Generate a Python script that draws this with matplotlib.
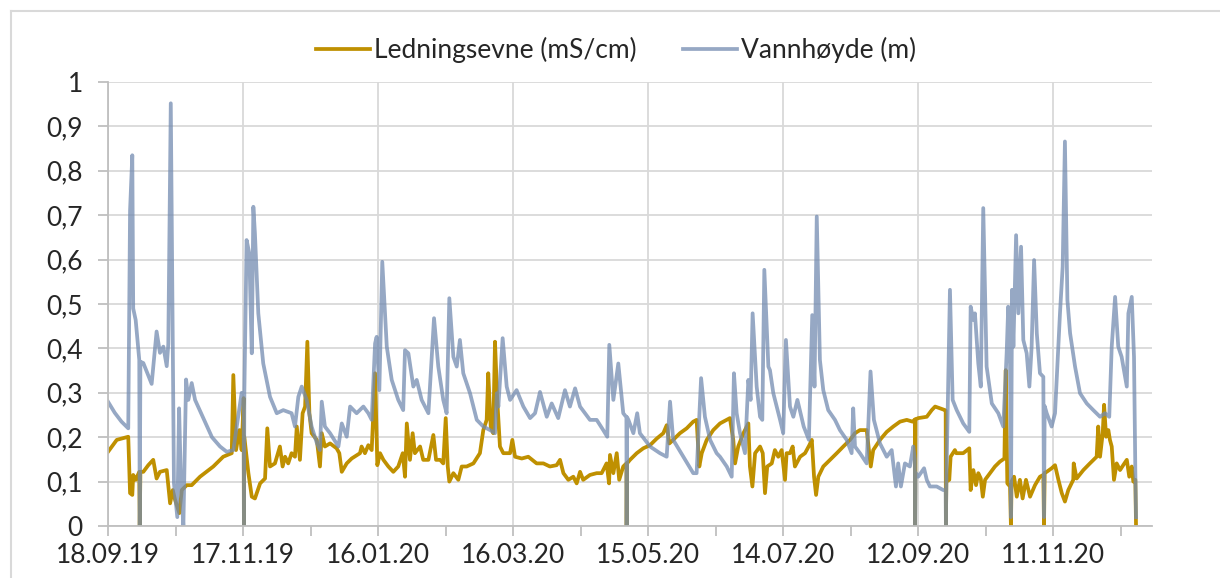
import datetime as dt
import matplotlib
matplotlib.use('Agg')
import matplotlib.pyplot as plt
from matplotlib.ticker import MultipleLocator, FuncFormatter
from matplotlib.lines import Line2D

plt.rcParams['font.family'] = ['Lato', 'DejaVu Sans']

start = dt.date(2019, 9, 18)

# dager etter 18.09.19
vann_dag = [0.0, 3.0, 6.0, 9.0, 9.8, 10.8, 11.2, 12.3, 13.9, 14.1, 14.4, 15.7, 19.4, 21.6, 23.1, 24.6,
            26.1, 26.8, 27.9, 29.3, 30.8, 31.6, 32.4, 33.5, 34.7, 35.7, 37.2, 38.7, 43.1, 46.2, 49.8,
            52.8, 55.7, 59.4, 60.3, 60.4, 60.6, 61.6, 62.8, 63.9, 64.6, 65.3, 66.8, 69.0, 72.0, 75.0,
            77.9, 81.6, 83.1, 84.6, 86.1, 88.3, 90.5, 92.8, 94.2, 95.0, 96.4, 98.7, 102.4, 103.9,
            106.1, 107.6, 110.5, 113.5, 115.7, 117.2, 118.7, 119.4, 120.6, 121.9, 123.9, 126.1,
            129.0, 131.2, 132.0, 133.5, 135.7, 137.2, 139.4, 142.4, 144.9, 146.8, 149.0, 150.5,
            151.7, 153.5, 155.0, 156.4, 157.9, 160.9, 163.9, 166.8, 169.8, 172.0, 172.8, 173.5,
            175.4, 177.2, 178.7, 181.6, 184.6, 187.6, 189.8, 192.0, 195.0, 197.2, 200.1, 203.1,
            205.3, 207.6, 209.8, 212.0, 214.2, 217.2, 220.1, 221.9, 222.8, 224.6, 226.8, 229.0,
            230.4, 230.5, 230.7, 231.3, 233.5, 235.2, 236.4, 240.9, 245.3, 248.3, 249.8, 251.2,
            255.7, 260.1, 261.6, 263.6, 265.3, 267.6, 270.5, 272.0, 275.0, 277.2, 278.2, 279.4,
            280.9, 283.1, 284.6, 285.6, 286.5, 288.3, 289.8, 290.8, 291.7, 293.5, 294.2, 295.7,
            298.7, 300.1, 301.3, 303.1, 304.6, 306.4, 309.2, 311.5, 313.0, 314.0, 315.0, 316.4,
            317.9, 320.1, 323.1, 325.3, 328.3, 330.5, 331.2, 332.0, 334.2, 337.2, 338.9, 340.4,
            343.1, 346.1, 348.3, 350.2, 351.2, 352.4, 354.2, 356.4, 357.9, 358.6, 358.7, 358.9,
            360.1, 362.7, 363.9, 365.3, 368.3, 371.2, 372.3, 372.4, 372.6, 374.2, 375.4, 377.2,
            380.1, 382.8, 383.4, 384.6, 385.3, 386.8, 387.9, 389.0, 390.5, 392.8, 395.7, 397.9,
            399.4, 400.1, 400.9, 401.3, 401.8, 402.4, 403.6, 404.6, 405.8, 406.8, 408.3, 409.5,
            410.5, 411.6, 412.8, 414.2, 415.7, 416.0, 416.3, 417.2, 419.4, 420.9, 423.1, 424.3,
            425.3, 426.4, 427.6, 429.8, 432.0, 435.0, 437.9, 440.9, 443.1, 445.0, 446.1, 447.6,
            449.0, 450.5, 452.8, 453.5, 455.0, 456.0, 456.6, 456.9]
vann_m = [0.28, 0.255, 0.235, 0.22, 0.71, 0.835, 0.49, 0.464, 0.374, 0.0, 0.37, 0.367, 0.32, 0.438,
          0.39, 0.404, 0.36, 0.41, 0.952, 0.097, 0.02, 0.265, 0.1, 0.0, 0.33, 0.284, 0.322, 0.284,
          0.235, 0.2, 0.179, 0.167, 0.171, 0.30, 0.284, 0.0, 0.3, 0.644, 0.614, 0.389, 0.719, 0.659,
          0.479, 0.366, 0.291, 0.254, 0.261, 0.254, 0.224, 0.291, 0.314, 0.284, 0.224, 0.187, 0.171,
          0.28, 0.224, 0.209, 0.179, 0.231, 0.201, 0.269, 0.254, 0.269, 0.254, 0.239, 0.411, 0.426,
          0.306, 0.595, 0.404, 0.329, 0.284, 0.261, 0.396, 0.389, 0.314, 0.329, 0.284, 0.254, 0.468,
          0.359, 0.284, 0.254, 0.513, 0.381, 0.359, 0.419, 0.344, 0.299, 0.239, 0.224, 0.216, 0.209,
          0.299, 0.269, 0.423, 0.314, 0.284, 0.306, 0.269, 0.243, 0.254, 0.302, 0.246, 0.276, 0.243,
          0.306, 0.269, 0.31, 0.269, 0.254, 0.239, 0.239, 0.216, 0.201, 0.408, 0.284, 0.366, 0.254,
          0.245, 0.0, 0.245, 0.239, 0.209, 0.254, 0.209, 0.179, 0.164, 0.156, 0.28, 0.194, 0.156,
          0.119, 0.119, 0.333, 0.246, 0.194, 0.164, 0.156, 0.134, 0.111, 0.344, 0.254, 0.209, 0.164,
          0.329, 0.284, 0.479, 0.314, 0.246, 0.239, 0.577, 0.359, 0.351, 0.299, 0.239, 0.209, 0.419,
          0.269, 0.246, 0.284, 0.224, 0.194, 0.475, 0.314, 0.697, 0.374, 0.306, 0.261, 0.239, 0.216,
          0.194, 0.164, 0.265, 0.179, 0.164, 0.141, 0.348, 0.239, 0.186, 0.156, 0.171, 0.089, 0.141,
          0.089, 0.141, 0.134, 0.179, 0.15, 0.0, 0.12, 0.111, 0.13, 0.104, 0.089, 0.089, 0.081, 0.08,
          0.0, 0.1, 0.532, 0.284, 0.261, 0.231, 0.212, 0.494, 0.464, 0.479, 0.366, 0.314, 0.716,
          0.359, 0.276, 0.254, 0.224, 0.389, 0.494, 0.366, 0.02, 0.532, 0.404, 0.655, 0.479, 0.629,
          0.419, 0.389, 0.314, 0.404, 0.599, 0.434, 0.344, 0.336, 0.02, 0.27, 0.254, 0.224, 0.254,
          0.479, 0.584, 0.866, 0.509, 0.434, 0.359, 0.299, 0.276, 0.261, 0.246, 0.254, 0.246, 0.404,
          0.516, 0.404, 0.381, 0.314, 0.479, 0.516, 0.381, 0.12, 0.02]

led_dag = [0.0, 3.9, 9.0, 9.8, 10.8, 11.2, 12.3, 13.9, 14.1, 14.4, 15.7, 17.9, 20.1, 21.6, 23.1, 26.1,
           27.6, 28.8, 29.8, 30.8, 31.7, 32.8, 35.0, 37.2, 40.9, 46.8, 51.2, 55.0, 55.7, 56.9, 58.4,
           59.4, 60.3, 60.4, 60.6, 62.4, 63.9, 65.3, 67.6, 69.8, 70.8, 72.0, 74.2, 76.4, 77.6, 78.7,
           80.1, 81.6, 83.1, 83.9, 85.3, 86.5, 87.6, 88.6, 89.5, 90.5, 92.8, 94.2, 95.0, 96.4, 98.7,
           101.6, 102.8, 103.9, 106.1, 108.3, 112.0, 112.7, 114.2, 115.7, 117.2, 118.7, 119.7,
           120.9, 122.4, 124.6, 126.8, 129.0, 131.0, 132.0, 132.8, 134.2, 135.4, 136.4, 138.7,
           140.1, 142.4, 144.6, 145.8, 147.6, 149.0, 150.1, 151.0, 151.7, 153.5, 155.7, 157.2,
           159.4, 162.4, 165.3, 166.8, 168.3, 169.0, 170.1, 171.2, 172.0, 173.0, 174.2, 175.7,
           178.7, 179.7, 180.9, 183.9, 186.8, 190.5, 193.5, 196.4, 199.4, 200.9, 202.4, 204.6,
           206.8, 208.3, 209.8, 211.2, 214.2, 217.2, 219.4, 221.6, 222.7, 223.1, 224.6, 226.1,
           227.2, 229.0, 230.4, 230.5, 230.7, 232.0, 235.0, 237.9, 240.9, 243.9, 246.8, 248.3,
           249.5, 251.2, 254.2, 257.2, 260.1, 261.6, 262.8, 263.9, 266.1, 269.0, 272.0, 276.4,
           277.9, 278.7, 280.1, 282.4, 284.6, 285.3, 286.4, 287.6, 289.8, 291.0, 292.0, 293.0,
           295.0, 296.4, 297.9, 299.4, 300.9, 301.6, 303.1, 304.3, 305.3, 307.6, 309.8, 311.7,
           312.8, 313.8, 314.7, 315.7, 317.9, 320.9, 323.9, 326.8, 329.8, 332.0, 334.2, 337.2,
           339.0, 340.1, 343.1, 346.1, 349.0, 352.0, 355.0, 357.6, 358.6, 358.7, 358.9, 360.1,
           363.9, 366.1, 367.6, 369.8, 372.0, 372.3, 372.4, 372.6, 373.9, 374.5, 376.4, 377.0,
           380.1, 382.8, 383.4, 384.6, 385.8, 386.8, 387.9, 388.8, 389.8, 392.0, 394.2, 396.4,
           398.4, 399.0, 399.7, 400.9, 401.3, 401.6, 402.7, 403.9, 405.3, 406.5, 408.0, 409.8,
           412.0, 414.2, 415.7, 416.0, 416.3, 417.2, 419.4, 420.9, 422.4, 423.9, 425.3, 426.8,
           429.0, 429.2, 430.5, 433.5, 436.4, 439.4, 440.1, 440.9, 442.1, 442.7, 443.6, 444.6,
           445.3, 446.1, 447.1, 448.3, 449.8, 451.2, 452.8, 453.9, 455.0, 455.7, 456.6, 456.9]
led_ms = [0.167, 0.194, 0.201, 0.074, 0.07, 0.115, 0.104, 0.122, 0.0, 0.122, 0.122, 0.137, 0.149,
          0.107, 0.122, 0.126, 0.051, 0.081, 0.059, 0.043, 0.029, 0.081, 0.092, 0.092, 0.111, 0.134,
          0.156, 0.164, 0.34, 0.171, 0.216, 0.171, 0.288, 0.0, 0.2, 0.119, 0.066, 0.062, 0.096, 0.107,
          0.22, 0.134, 0.141, 0.179, 0.134, 0.156, 0.141, 0.164, 0.156, 0.224, 0.149, 0.254, 0.269,
          0.415, 0.254, 0.209, 0.194, 0.134, 0.209, 0.179, 0.186, 0.175, 0.164, 0.122, 0.141, 0.152,
          0.164, 0.179, 0.164, 0.182, 0.171, 0.344, 0.137, 0.164, 0.149, 0.134, 0.122, 0.134, 0.164,
          0.111, 0.231, 0.149, 0.209, 0.164, 0.179, 0.149, 0.149, 0.205, 0.149, 0.149, 0.141, 0.243,
          0.134, 0.1, 0.119, 0.104, 0.134, 0.134, 0.141, 0.164, 0.216, 0.239, 0.344, 0.224, 0.209,
          0.415, 0.284, 0.179, 0.164, 0.164, 0.194, 0.156, 0.152, 0.156, 0.141, 0.141, 0.134, 0.137,
          0.149, 0.119, 0.104, 0.111, 0.096, 0.122, 0.104, 0.115, 0.119, 0.119, 0.141, 0.096, 0.16,
          0.119, 0.164, 0.104, 0.134, 0.141, 0.0, 0.141, 0.149, 0.164, 0.175, 0.182, 0.197, 0.209,
          0.227, 0.186, 0.194, 0.209, 0.22, 0.235, 0.239, 0.134, 0.164, 0.194, 0.216, 0.231, 0.243,
          0.194, 0.141, 0.179, 0.209, 0.231, 0.134, 0.089, 0.164, 0.179, 0.164, 0.074, 0.134, 0.141,
          0.171, 0.156, 0.171, 0.104, 0.164, 0.164, 0.179, 0.134, 0.156, 0.164, 0.182, 0.194, 0.111,
          0.07, 0.111, 0.134, 0.149, 0.164, 0.179, 0.194, 0.209, 0.216, 0.216, 0.134, 0.171, 0.194,
          0.212, 0.224, 0.235, 0.239, 0.235, 0.24, 0.0, 0.24, 0.243, 0.246, 0.261, 0.269, 0.265,
          0.261, 0.26, 0.0, 0.1, 0.104, 0.156, 0.171, 0.164, 0.164, 0.175, 0.081, 0.126, 0.092, 0.119,
          0.107, 0.066, 0.104, 0.119, 0.134, 0.145, 0.152, 0.351, 0.096, 0.089, 0.0, 0.1, 0.111,
          0.066, 0.104, 0.062, 0.104, 0.066, 0.092, 0.111, 0.115, 0.0, 0.12, 0.122, 0.13, 0.137,
          0.104, 0.074, 0.055, 0.081, 0.104, 0.141, 0.107, 0.126, 0.141, 0.156, 0.224, 0.156, 0.209,
          0.273, 0.201, 0.216, 0.194, 0.179, 0.104, 0.141, 0.126, 0.137, 0.149, 0.111, 0.134, 0.1,
          0.104, 0.0]

y_ticks = [0, 0.1, 0.2, 0.3, 0.4, 0.5, 0.6, 0.7, 0.8, 0.9, 1.0]

gold = '#BF9000'
blaa = '#738BB0'
grid_c = '#D9D9D9'
txt_c = '#262626'

fig = plt.figure(figsize=(12.2, 5.78), dpi=100)
ax = fig.add_axes([108 / 1220, 1 - 526 / 578, (1152 - 108) / 1220, (526 - 82) / 578])

ax.plot(led_dag, led_ms, color=gold, lw=2.7, solid_joinstyle='round', label='Ledningsevne (mS/cm)')
ax.plot(vann_dag, vann_m, color=blaa, lw=2.7, alpha=0.75, solid_joinstyle='round',
        label='Vannhøyde (m)')

ax.set_xlim(0, 464)
ax.set_ylim(0, 1)
ax.set_yticks(y_ticks)
ax.yaxis.set_major_formatter(FuncFormatter(
    lambda v, p: '{:g}'.format(round(v, 1)).replace('.', ',')))
ax.xaxis.set_major_locator(MultipleLocator(60))
ax.xaxis.set_minor_locator(MultipleLocator(30))
ax.xaxis.set_major_formatter(FuncFormatter(
    lambda v, p: (start + dt.timedelta(days=int(round(v)))).strftime('%d.%m.%y')))

ax.grid(True, which='major', color=grid_c, lw=1.3)
ax.set_axisbelow(True)
for s in ['top', 'right']:
    ax.spines[s].set_visible(False)
for s in ['left', 'bottom']:
    ax.spines[s].set_color('#BFBFBF')
    ax.spines[s].set_linewidth(1.3)
ax.tick_params(axis='both', which='both', direction='out', length=7, width=1.3,
               color='#BFBFBF', labelsize=19, labelcolor=txt_c)
ax.tick_params(axis='y', pad=11)
ax.tick_params(axis='x', pad=5)

fig.legend(loc='center', bbox_to_anchor=(0.505, 1 - 50 / 578), ncol=2, frameon=False,
           fontsize=19, handlelength=2.05, columnspacing=1.75, handletextpad=0.15,
           labelcolor=txt_c)

# ramme rundt diagrammet
fig.add_artist(Line2D([11 / 1220, 11 / 1220], [-0.1, 1 - 11 / 578], color=grid_c, lw=1.5,
                      transform=fig.transFigure))
fig.add_artist(Line2D([11 / 1220, 1.1], [1 - 11 / 578, 1 - 11 / 578], color=grid_c, lw=1.5,
                      transform=fig.transFigure))

fig.savefig('out.png', dpi=100)
